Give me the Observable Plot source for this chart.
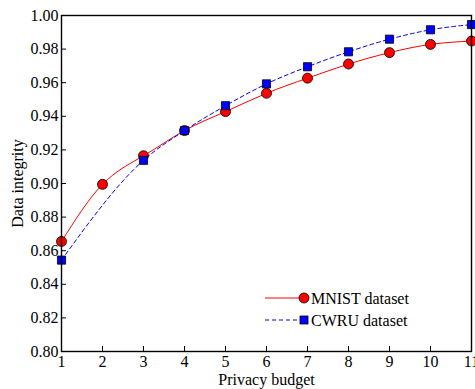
<!DOCTYPE html>
<html><head><meta charset="utf-8">
<script src="https://cdn.jsdelivr.net/npm/d3@7"></script>
<script src="https://cdn.jsdelivr.net/npm/@observablehq/plot@0.6"></script>
<style>
body{margin:0;background:#fff;}
#wrap{position:relative;width:475px;height:389px;font-family:"Liberation Serif","Times New Roman",serif;}
#wrap svg text{font-size:16px;font-family:"Liberation Serif","Times New Roman",serif;fill:#000;}
#legend{position:absolute;left:262px;top:288px;}
</style></head><body><div id="wrap"></div>
<script>
const budgets = [1, 2, 3, 4, 5, 6, 7, 8, 9, 10, 11];
const mnist = [0.8655, 0.8995, 0.9165, 0.9315, 0.9428, 0.9537, 0.9627, 0.9711, 0.9779, 0.9828, 0.9848];
const cwruBudgets = [1, 3, 4, 5, 6, 7, 8, 9, 10, 11];
const cwru = [0.8544, 0.9138, 0.9315, 0.9463, 0.9593, 0.9695, 0.9784, 0.9859, 0.9915, 0.9946];
const yTicks = [0.80, 0.82, 0.84, 0.86, 0.88, 0.90, 0.92, 0.94, 0.96, 0.98, 1.00];
const xTicks = [1, 2, 3, 4, 5, 6, 7, 8, 9, 10, 11];
const seriesNames = ["MNIST dataset", "CWRU dataset"];

const mnistData = budgets.map((x, i) => ({x, y: mnist[i]}));
const cwruData = cwruBudgets.map((x, i) => ({x, y: cwru[i]}));

const chart = Plot.plot({
  width: 475,
  height: 389,
  marginTop: 15,
  marginRight: 4,
  marginBottom: 38,
  marginLeft: 61,
  style: {fontFamily: '"Liberation Serif","Times New Roman",serif', fontSize: "16px", color: "#000", background: "#fff", overflow: "visible"},
  x: {domain: [1, 11]},
  y: {domain: [0.80, 1.00]},
  marks: [
    Plot.axisY(yTicks, {tickSize: -5, tickPadding: 8, tickFormat: d3.format(".2f"), label: "Data integrity", labelArrow: "none", labelAnchor: "center", labelOffset: 50}),
    Plot.axisX(xTicks, {tickSize: -5, tickPadding: 9, tickFormat: d => String(d), label: "Privacy budget", labelArrow: "none", labelAnchor: "center", labelOffset: 33}),
    Plot.line(mnistData, {x: "x", y: "y", stroke: "#ff0000", strokeWidth: 1, curve: "natural"}),
    Plot.line(cwruData, {x: "x", y: "y", stroke: "#0000ff", strokeWidth: 1, strokeDasharray: "4,3", curve: "monotone-x"}),
    Plot.dot(mnistData, {x: "x", y: "y", r: 5, fill: "#ff0000", stroke: "#000", strokeWidth: 0.8, symbol: "circle"}),
    Plot.dot(cwruData, {x: "x", y: "y", r: 4.6, fill: "#0000ff", stroke: "#000", strokeWidth: 0.8, symbol: "square"}),
    Plot.frame({stroke: "#000", strokeWidth: 1.4})
  ]
});
document.getElementById("wrap").appendChild(chart);

// legend
const leg = d3.select("#wrap").append("svg").attr("id", "legend").attr("width", 175).attr("height", 44);
const rows = [
  {name: seriesNames[0], color: "#ff0000", dash: null, sym: "circle"},
  {name: seriesNames[1], color: "#0000ff", dash: "4,3", sym: "square"}
];
rows.forEach((r, i) => {
  const g = leg.append("g").attr("transform", `translate(0,${10 + i * 22})`);
  g.append("line").attr("x1", 3).attr("x2", 42).attr("y1", 0).attr("y2", 0)
    .attr("stroke", r.color).attr("stroke-width", 1).attr("stroke-dasharray", r.dash);
  if (r.sym === "circle") g.append("circle").attr("cx", 42).attr("cy", 0).attr("r", 5).attr("fill", r.color).attr("stroke", "#000").attr("stroke-width", 0.8);
  else g.append("rect").attr("x", 38).attr("y", -4).attr("width", 8).attr("height", 8).attr("fill", r.color).attr("stroke", "#000").attr("stroke-width", 0.8);
  g.append("text").attr("x", 49).attr("y", 0).attr("dy", "0.35em").text(r.name);
});
</script>
</body></html>
